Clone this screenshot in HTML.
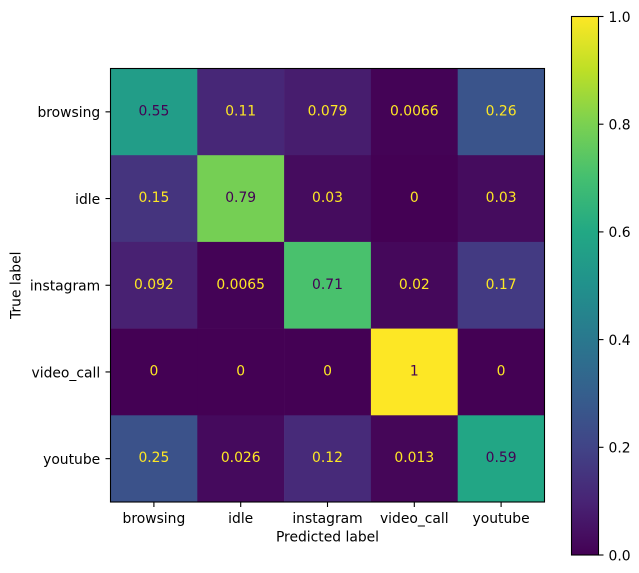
<!DOCTYPE html>
<html>
<head>
<meta charset="utf-8">
<style>
html,body{margin:0;padding:0;background:#fff;width:639px;height:573px;overflow:hidden}
svg{display:block}
text{font-family:"DejaVu Sans","Liberation Sans",sans-serif;font-size:13.89px;fill:#000}
</style>
</head>
<body>
<svg id="chart" xmlns="http://www.w3.org/2000/svg" width="639" height="573" viewBox="0 0 639 573">
<defs>
<linearGradient id="viridis-gradient" x1="0" y1="1" x2="0" y2="0"></linearGradient>
</defs>
<rect x="0" y="0" width="639" height="573" fill="#ffffff"></rect>
</svg>
<script>
const classLabels = ['browsing', 'idle', 'instagram', 'video_call', 'youtube'];
const matrixValues = [
  [0.55, 0.11, 0.079, 0.0066, 0.26],
  [0.15, 0.79, 0.03, 0, 0.03],
  [0.092, 0.0065, 0.71, 0.02, 0.17],
  [0, 0, 0, 1, 0],
  [0.25, 0.026, 0.12, 0.013, 0.59]
];
const colorbarTicks = [0, 0.2, 0.4, 0.6, 0.8, 1];
const colorbarTickLabels = ['0.0', '0.2', '0.4', '0.6', '0.8', '1.0'];
const viridisStops = ['#440154', '#482475', '#414487', '#355f8d', '#2a788e', '#21918c', '#22a884', '#44bf70', '#7ad151', '#bddf26', '#fde725'];

const NS = 'http://www.w3.org/2000/svg';
const svg = document.getElementById('chart');
const plot = { left: 110.5, right: 544.5, top: 68.5, bottom: 502 };
const bar = { left: 571.5, right: 598.5, top: 16.5, bottom: 555 };
const colCount = classLabels.length;
const rowCount = matrixValues.length;

function xBand(i) { return plot.left + (plot.right - plot.left) * i / colCount; }
function yBand(i) { return plot.top + (plot.bottom - plot.top) * i / rowCount; }
function xCenter(i) { return xBand(i + 0.5); }
function yCenter(i) { return yBand(i + 0.5); }
function barY(v) { return bar.bottom + (bar.top - bar.bottom) * v; }

function hexToRgb(h) {
  return [parseInt(h.slice(1, 3), 16), parseInt(h.slice(3, 5), 16), parseInt(h.slice(5, 7), 16)];
}
function viridis(v) {
  const t = Math.max(0, Math.min(1, v)) * (viridisStops.length - 1);
  const i = Math.min(Math.floor(t), viridisStops.length - 2);
  const f = t - i;
  const a = hexToRgb(viridisStops[i]);
  const b = hexToRgb(viridisStops[i + 1]);
  return 'rgb(' + a.map(function (c, k) { return Math.round(c + (b[k] - c) * f); }).join(',') + ')';
}
function make(tag, props, text) {
  const el = document.createElementNS(NS, tag);
  Object.keys(props).forEach(function (k) { el.setAttribute(k, props[k]); });
  if (text !== undefined) el.textContent = text;
  svg.appendChild(el);
  return el;
}

const gradient = document.getElementById('viridis-gradient');
viridisStops.forEach(function (c, i) {
  const s = document.createElementNS(NS, 'stop');
  s.setAttribute('offset', String(i / (viridisStops.length - 1)));
  s.setAttribute('stop-color', c);
  gradient.appendChild(s);
});

matrixValues.forEach(function (row, r) {
  row.forEach(function (v, c) {
    const cell = make('rect', {
      x: xBand(c), y: yBand(r),
      width: xBand(c + 1) - xBand(c) + 0.3, height: yBand(r + 1) - yBand(r) + 0.3,
      fill: viridis(v)
    });
    
    
  });
});

matrixValues.forEach(function (row, r) {
  row.forEach(function (v, c) {
    const label = make('text', {
      x: xCenter(c), y: yCenter(r) + 3.5,
      'text-anchor': 'middle',
      style: 'fill:' + (v < 0.5 ? '#fde725' : '#440154')
    }, String(v));
    
    
  });
});

const plotFrame = make('rect', {
  x: plot.left, y: plot.top, width: plot.right - plot.left, height: plot.bottom - plot.top,
  fill: 'none', stroke: '#000', 'stroke-width': 1.1
});



classLabels.forEach(function (name, i) {
  const xt = make('line', { x1: xCenter(i), x2: xCenter(i), y1: plot.bottom, y2: plot.bottom + 5, stroke: '#000', 'stroke-width': 1.1 });
  
  
  const xl = make('text', { x: xCenter(i), y: 523, 'text-anchor': 'middle' }, name);
  
  
  const yt = make('line', { x1: plot.left - 5, x2: plot.left, y1: yCenter(i), y2: yCenter(i), stroke: '#000', 'stroke-width': 1.1 });
  
  
  const yl = make('text', { x: plot.left - 10.3, y: yCenter(i) + 5.3, 'text-anchor': 'end' }, name);
  
  
});

const xTitle = make('text', { x: (plot.left + plot.right) / 2, y: 541.5, 'text-anchor': 'middle' }, 'Predicted label');



const yTitle = make('text', { x: 0, y: 0, 'text-anchor': 'middle', transform: 'translate(20.5 ' + (plot.top + plot.bottom) / 2 + ') rotate(-90)' }, 'True label');



const barFill = make('rect', { x: bar.left, y: bar.top, width: bar.right - bar.left, height: bar.bottom - bar.top, fill: 'url(#viridis-gradient)' });



const barFrame = make('rect', { x: bar.left, y: bar.top, width: bar.right - bar.left, height: bar.bottom - bar.top, fill: 'none', stroke: '#000', 'stroke-width': 1.1 });



colorbarTicks.forEach(function (v, i) {
  const t = make('line', { x1: bar.right, x2: bar.right + 5, y1: barY(v), y2: barY(v), stroke: '#000', 'stroke-width': 1.1 });
  
  
  const l = make('text', { x: bar.right + 10, y: barY(v) + 5.3 }, colorbarTickLabels[i]);
  
  
});
</script>
</body>
</html>
